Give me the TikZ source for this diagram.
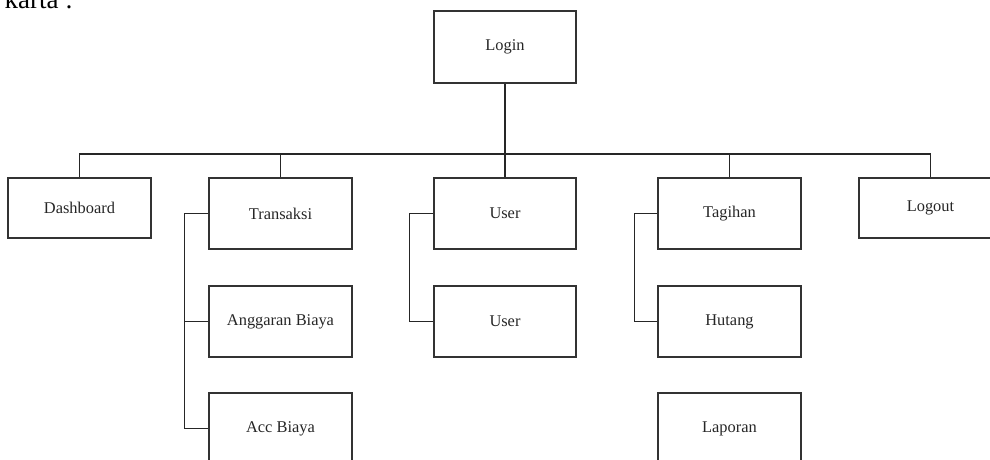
\documentclass[tikz,border=0pt]{standalone}
\usepackage{fontspec}
\setmainfont{Liberation Serif}
\tikzset{
  menubox/.style={draw=black!80,line width=1.3pt,minimum width=143pt,
    minimum height=71pt,inner sep=0pt,text=black!85,
    font=\fontsize{16.4}{19}\selectfont},
  shortbox/.style={menubox,minimum height=60pt},
  link/.style={draw=black!85,line width=1.2pt}
}
\begin{document}
\begin{tikzpicture}[x=1pt,y=-1pt]
  \useasboundingbox (0,0) rectangle (990,460);
  \clip (0,0) rectangle (990,460);
  \path (73,9) node[anchor=base east,inner sep=0pt,text=black,
    font=\fontsize{27}{30}\selectfont] (caption) {karta :};

  \path (505,47) node[menubox,minimum width=142pt,minimum height=72pt] (login) {Login};

  \path (79.5,208) node[shortbox] (dashboard) {Dashboard};
  \path (280.5,213.5) node[menubox] (transaksi) {Transaksi};
  \path (280.5,321.5) node[menubox] (anggaran) {Anggaran Biaya};
  \path (280.5,428.5) node[menubox] (acc) {Acc Biaya};
  \path (505,213.5) node[menubox,minimum width=142pt] (user) {User};
  \path (505,321.5) node[menubox,minimum width=142pt] (usersub) {User};
  \path (729.5,213.5) node[menubox] (tagihan) {Tagihan};
  \path (729.5,321.5) node[menubox] (hutang) {Hutang};
  \path (729.5,428.5) node[menubox] (laporan) {Laporan};
  \path (930.5,208) node[shortbox] (logout) {Logout};

  \coordinate (bar) at (505,154);
  \draw[link] (login.south) -- (user.north);
  \draw[link] (dashboard.north) |- (bar) -| (logout.north);
  \draw[link] (transaksi.north) -- (transaksi.north |- bar);
  \draw[link] (tagihan.north) -- (tagihan.north |- bar);

  \draw[link] (transaksi.west) -- ++(-24,0) |- (acc.west);
  \draw[link] (anggaran.west) -- ++(-24,0);
  \draw[link] (user.west) -- ++(-24,0) |- (usersub.west);
  \draw[link] (tagihan.west) -- ++(-23,0) |- (hutang.west);
\end{tikzpicture}
\end{document}
